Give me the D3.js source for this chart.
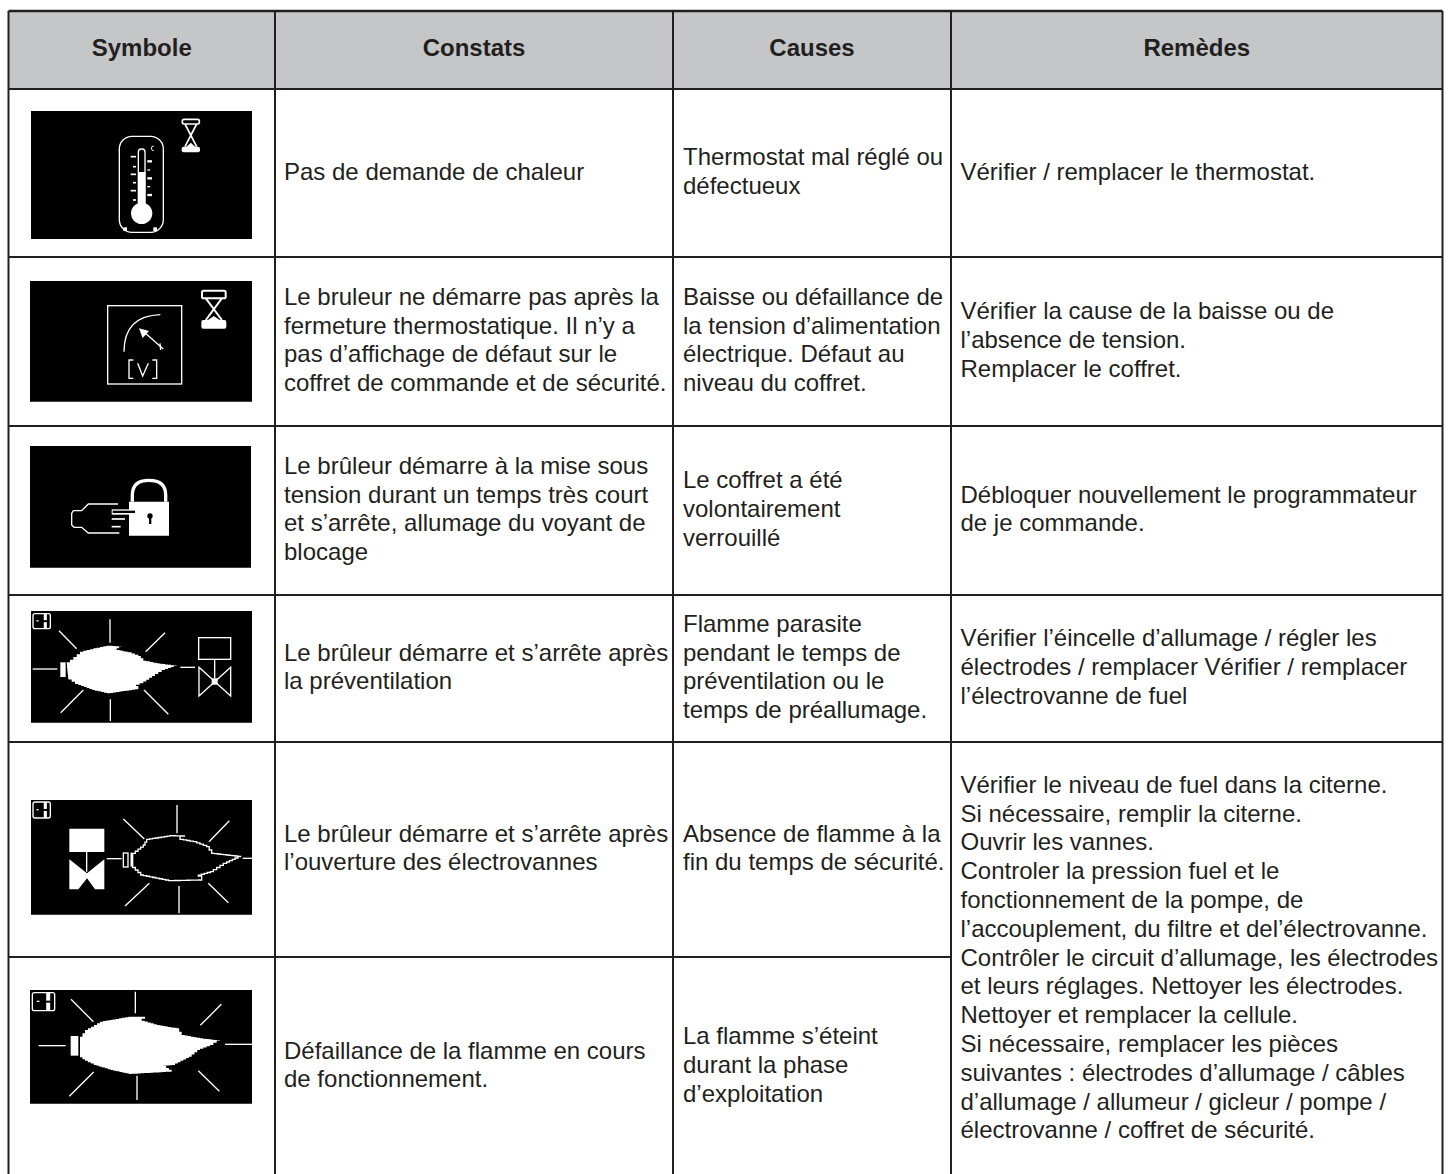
<!DOCTYPE html>
<html lang="fr">
<head>
<meta charset="utf-8">
<title>Symboles de défaut</title>
<script src="https://cdn.jsdelivr.net/npm/d3@7"></script>
<style>
  html, body { margin: 0; background: #fff; }
  svg { display: block; }
  text { font-family: "Liberation Sans", Arial, sans-serif; fill: #231f20; }
</style>
</head>
<body>
<div id="chart"></div>
<script>
const headers = ["Symbole", "Constats", "Causes", "Remèdes"];

const constats = [
  ["Pas de demande de chaleur"],
  ["Le bruleur ne démarre pas après la", "fermeture thermostatique. Il n’y a", "pas d’affichage de défaut sur le", "coffret de commande et de sécurité."],
  ["Le brûleur démarre à la mise sous", "tension durant un temps très court", "et s’arrête, allumage du voyant de", "blocage"],
  ["Le brûleur démarre et s’arrête après", "la préventilation"],
  ["Le brûleur démarre et s’arrête après", "l’ouverture des électrovannes"],
  ["Défaillance de la flamme en cours", "de fonctionnement."]
];

const causes = [
  ["Thermostat mal réglé ou", "défectueux"],
  ["Baisse ou défaillance de", "la tension d’alimentation", "électrique. Défaut au", "niveau du coffret."],
  ["Le coffret a été", "volontairement", "verrouillé"],
  ["Flamme parasite", "pendant le temps de", "préventilation ou le", "temps de préallumage."],
  ["Absence de flamme à la", "fin du temps de sécurité."],
  ["La flamme s’éteint", "durant la phase", "d’exploitation"]
];

const remedes = [
  { from: 0, to: 0, lines: ["Vérifier / remplacer le thermostat."] },
  { from: 1, to: 1, lines: ["Vérifier la cause de la baisse ou de", "l’absence de tension.", "Remplacer le coffret."] },
  { from: 2, to: 2, lines: ["Débloquer nouvellement le programmateur", "de je commande."] },
  { from: 3, to: 3, lines: ["Vérifier l’éincelle d’allumage / régler les", "électrodes / remplacer Vérifier / remplacer", "l’électrovanne de fuel"] },
  { from: 4, to: 5, lines: [
    "Vérifier le niveau de fuel dans la citerne.",
    "Si nécessaire, remplir la citerne.",
    "Ouvrir les vannes.",
    "Controler la pression fuel et le",
    "fonctionnement de la pompe, de",
    "l’accouplement, du filtre et del’électrovanne.",
    "Contrôler le circuit d’allumage, les électrodes",
    "et leurs réglages. Nettoyer les électrodes.",
    "Nettoyer et remplacer la cellule.",
    "Si nécessaire, remplacer les pièces",
    "suivantes : électrodes d’allumage / câbles",
    "d’allumage / allumeur / gicleur / pompe /",
    "électrovanne / coffret de sécurité."
  ] }
];

// layout
const width = 1450, height = 1174;
const colEdges = [8.5, 275, 673, 951, 1442.5];
const rowEdges = [11, 89, 257, 426, 595, 742, 957, 1176];
const lineHeight = 28.8;
const fontSize = 24;
const pad = [0, 9, 10, 9.5];

const svg = d3.select("#chart").append("svg")
  .attr("width", width)
  .attr("height", height);

// header band
svg.append("rect")
  .attr("x", colEdges[0]).attr("y", rowEdges[0])
  .attr("width", colEdges[4] - colEdges[0])
  .attr("height", rowEdges[1] - rowEdges[0])
  .attr("fill", "#c4c6c8");

svg.selectAll(".head").data(headers).enter().append("text")
  .attr("class", "head")
  .attr("x", (d, i) => (colEdges[i] + colEdges[i + 1]) / 2)
  .attr("y", 55.5)
  .attr("text-anchor", "middle")
  .attr("font-size", fontSize)
  .attr("font-weight", "bold")
  .text(d => d);

// body text, centred in its cell
function cellText(col, from, to, lines) {
  const mid = (rowEdges[from + 1] + rowEdges[to + 2]) / 2;
  const g = svg.append("g");
  g.selectAll("text").data(lines).enter().append("text")
    .attr("x", colEdges[col] + pad[col])
    .attr("y", (d, i) => mid + (i - (lines.length - 1) / 2) * lineHeight + 6.5)
    .attr("font-size", fontSize)
    .text(d => d);
}
constats.forEach((lines, r) => cellText(1, r, r, lines));
causes.forEach((lines, r) => cellText(2, r, r, lines));
remedes.forEach(c => cellText(3, c.from, c.to, c.lines));

// grid
const grid = svg.append("g").attr("stroke", "#231f20").attr("stroke-width", 2).attr("fill", "none");
colEdges.forEach(x => grid.append("line").attr("x1", x).attr("x2", x).attr("y1", rowEdges[0]).attr("y2", height));
rowEdges.slice(0, -1).forEach((y, i) => grid.append("line")
  .attr("x1", colEdges[0]).attr("y1", y)
  .attr("x2", i === 6 ? colEdges[3] : colEdges[4]).attr("y2", y)
  .attr("stroke-width", i === 0 ? 2.6 : 2));

// ---- icons, drawn in units of a third of a pixel
const line = d3.line();
const stepLine = d3.line().curve(d3.curveStepAfter);

// the display icons are low-res bitmaps, so flame edges come out as stairs
function stairs(pts) {
  const out = [];
  pts.forEach((p, i) => {
    const q = pts[(i + 1) % pts.length];
    const n = Math.max(1, Math.round(Math.max(Math.abs(q[0] - p[0]), Math.abs(q[1] - p[1])) / 9));
    d3.range(n).forEach(k => out.push([p[0] + (q[0] - p[0]) * k / n, p[1] + (q[1] - p[1]) * k / n]));
  });
  return out;
}

function stroke(g, pts, w, closed) {
  return g.append("path")
    .attr("d", line(pts) + (closed ? "Z" : ""))
    .attr("fill", "none").attr("stroke", "#fff").attr("stroke-width", w || 4);
}
function fill(g, pts, color) {
  return g.append("path").attr("d", line(pts) + "Z").attr("fill", color || "#fff");
}
function box(g, x0, y0, x1, y1, color) {
  return fill(g, [[x0, y0], [x1, y0], [x1, y1], [x0, y1]], color);
}
function flame(g, pts, outlineOnly) {
  const p = g.append("path").attr("d", stepLine(stairs(pts)) + "Z");
  if (outlineOnly) p.attr("fill", "none").attr("stroke", "#fff").attr("stroke-width", 4);
  else p.attr("fill", "#fff");
}
function iconGroup(cropY, x0, y0, x1, y1) {
  const g = svg.append("g").attr("transform", `translate(0,${cropY}) scale(${1 / 3})`);
  box(g, x0, y0, x1, y1, "#000");
  return g;
}
function rays(g, list, w) {
  list.forEach(r => stroke(g, r, w || 4));
}
function hourglass(g, x0, x1, yTop, yCapEnd, yBlob, yEnd, w) {
  const a = x0 + (x1 - x0) * 0.18, b = x1 - (x1 - x0) * 0.18;
  g.append("rect").attr("x", x0 + 2).attr("y", yTop).attr("width", x1 - x0 - 4).attr("height", yCapEnd - yTop)
    .attr("rx", 5).attr("fill", "none").attr("stroke", "#fff").attr("stroke-width", w);
  stroke(g, [[a, yCapEnd], [b, yBlob]], w);
  stroke(g, [[b, yCapEnd], [a, yBlob]], w);
  g.append("rect").attr("x", x0).attr("y", yBlob).attr("width", x1 - x0).attr("height", yEnd - yBlob)
    .attr("rx", 6).attr("fill", "#fff");
  fill(g, [[(a + b) / 2, yBlob - 12], [a + 3, yBlob + 2], [b - 3, yBlob + 2]]);
}
function battery(g, x0, y0, x1, y1) {
  g.append("rect").attr("x", x0).attr("y", y0).attr("width", x1 - x0).attr("height", y1 - y0)
    .attr("rx", 6).attr("fill", "#000").attr("stroke", "#fff").attr("stroke-width", 4);
  const w = x1 - x0, m = (y0 + y1) / 2;
  box(g, x0 + w * 0.2, m - 3, x0 + w * 0.32, m + 1);
  box(g, x0 + w * 0.62, y0, x0 + w * 0.8, m - 3);
  box(g, x0 + w * 0.62, m + 3, x0 + w * 0.8, y1);
}

// 1 thermometre
{
  const g = iconGroup(0, 93, 333, 756, 717);
  hourglass(g, 545, 600, 358, 372, 440, 457, 5);
  g.append("rect").attr("x", 358).attr("y", 409).attr("width", 132).attr("height", 288)
    .attr("rx", 38).attr("fill", "none").attr("stroke", "#fff").attr("stroke-width", 4);
  box(g, 370, 682, 381, 693);
  box(g, 460, 682, 471, 693);
  g.append("rect").attr("x", 415).attr("y", 447).attr("width", 20).attr("height", 170).attr("rx", 9)
    .attr("fill", "#000").attr("stroke", "#fff").attr("stroke-width", 4);
  box(g, 414, 516, 436, 620);
  g.append("circle").attr("cx", 425).attr("cy", 640).attr("r", 32).attr("fill", "#fff");
  [[470, 16], [500, 9], [523, 16], [548, 9], [572, 16], [600, 9]].forEach(t => stroke(g, [[408 - t[1], t[0]], [408, t[0]]], 5));
  [[484, 14, 7], [510, 8, 4], [535, 14, 7], [560, 8, 4], [585, 14, 7]].forEach(t => stroke(g, [[442, t[0]], [442 + t[1], t[0]]], t[2]));
  g.append("path").attr("d", "M461 438 A7 7 0 1 0 461 452").attr("fill", "none").attr("stroke", "#fff").attr("stroke-width", 3);
}

// 2 tension
{
  const g = iconGroup(0, 90, 843, 756, 1205);
  hourglass(g, 604, 679, 872, 895, 960, 986, 6);
  g.append("rect").attr("x", 323).attr("y", 917).attr("width", 222).attr("height", 235)
    .attr("fill", "none").attr("stroke", "#fff").attr("stroke-width", 4);
  g.append("path").attr("d", "M372 1055 Q372 948 481 944").attr("fill", "none").attr("stroke", "#fff").attr("stroke-width", 4);
  stroke(g, [[490, 1047], [432, 996]], 4);
  fill(g, [[417, 985], [447, 993], [428, 1014]]);
  stroke(g, [[480, 1030], [482, 1050]], 4);
  stroke(g, [[400, 1080], [387, 1080], [387, 1135], [400, 1135]], 4);
  stroke(g, [[457, 1080], [470, 1080], [470, 1135], [457, 1135]], 4);
  stroke(g, [[413, 1090], [428, 1128], [445, 1090]], 4);
}

// 3 verrou
{
  const g = iconGroup(420, 90, 78, 753, 443);
  box(g, 387, 245, 507, 347);
  g.append("path").attr("d", "M397 245 V225 Q397 181 447 181 Q497 181 497 225 V245")
    .attr("fill", "none").attr("stroke", "#fff").attr("stroke-width", 10);
  g.append("circle").attr("cx", 450).attr("cy", 288).attr("r", 8).attr("fill", "#000");
  box(g, 447, 288, 454, 312, "#000");
  stroke(g, [[354, 252], [265, 252], [245, 272], [220, 272], [215, 280], [215, 315], [222, 322], [245, 322], [265, 339], [358, 339]], 4);
  box(g, 330, 262, 387, 330, "#000");
  box(g, 335, 268, 413, 284);
  box(g, 338, 272, 405, 279, "#000");
  stroke(g, [[335, 297], [375, 297]], 5);
  stroke(g, [[335, 320], [362, 320]], 5);
}

const flameFull = [[200, 727], [240, 695], [280, 685], [320, 677], [365, 680], [350, 690], [385, 697], [415, 708], [430, 722], [470, 730], [530, 738], [495, 750], [465, 768], [430, 790], [408, 798], [415, 808], [330, 820], [285, 810], [235, 792], [205, 772]];
const flameLine = [[398, 310], [430, 285], [440, 268], [510, 257], [553, 258], [540, 268], [580, 275], [620, 290], [635, 310], [722, 320], [680, 340], [640, 365], [595, 378], [605, 390], [515, 392], [430, 375], [398, 345]];
const flameBig = [[240, 860], [255, 840], [300, 815], [385, 800], [445, 800], [425, 812], [470, 825], [530, 835], [545, 855], [600, 865], [660, 872], [640, 885], [600, 900], [575, 920], [525, 945], [490, 948], [515, 965], [395, 972], [340, 960], [290, 945], [255, 928], [240, 915]];

// 4 flamme, vanne ouverte
{
  const g = iconGroup(420, 93, 573, 756, 908);
  battery(g, 99, 581, 151, 626);
  rays(g, [[[330, 598], [330, 668]], [[177, 632], [230, 686]], [[495, 638], [437, 695]], [[98, 747], [172, 747]], [[541, 742], [585, 742]], [[250, 810], [182, 878]], [[432, 810], [505, 883]], [[331, 838], [331, 903]]]);
  box(g, 181, 727, 197, 771);
  flame(g, flameFull);
  g.append("rect").attr("x", 596).attr("y", 653).attr("width", 96).attr("height", 65)
    .attr("fill", "none").attr("stroke", "#fff").attr("stroke-width", 4);
  stroke(g, [[644, 718], [644, 775]], 4);
  stroke(g, [[597, 742], [692, 828], [692, 742], [597, 828]], 4, true);
  box(g, 635, 775, 653, 794);
}

// 5 flamme vide, vanne pleine
{
  const g = iconGroup(750, 93, 150, 756, 494);
  battery(g, 99, 156, 151, 204);
  box(g, 208, 236, 313, 306);
  stroke(g, [[260, 306], [260, 365]], 4);
  fill(g, [[208, 328], [261, 370], [313, 328], [313, 418], [285, 418], [261, 385], [235, 418], [208, 418]]);
  stroke(g, [[320, 326], [365, 326]], 4);
  g.append("rect").attr("x", 370).attr("y", 309).attr("width", 14).attr("height", 42)
    .attr("fill", "none").attr("stroke", "#fff").attr("stroke-width", 4);
  stroke(g, [[394, 308], [394, 350]], 5);
  flame(g, flameLine, true);
  rays(g, [[[531, 165], [531, 250]], [[370, 207], [433, 267]], [[688, 212], [627, 275]], [[728, 325], [756, 325]], [[448, 400], [375, 468]], [[537, 408], [537, 490]], [[625, 400], [685, 458]]]);
}

// 6 flamme pleine
{
  const g = iconGroup(750, 90, 720, 756, 1061);
  battery(g, 97, 728, 164, 782);
  box(g, 212, 858, 235, 917);
  flame(g, flameBig);
  rays(g, [[[406, 725], [406, 790]], [[213, 748], [280, 815]], [[664, 763], [601, 826]], [[116, 887], [197, 887]], [[675, 883], [756, 883]], [[281, 966], [208, 1039]], [[411, 977], [411, 1050]], [[595, 962], [658, 1024]]]);
}
</script>
</body>
</html>
